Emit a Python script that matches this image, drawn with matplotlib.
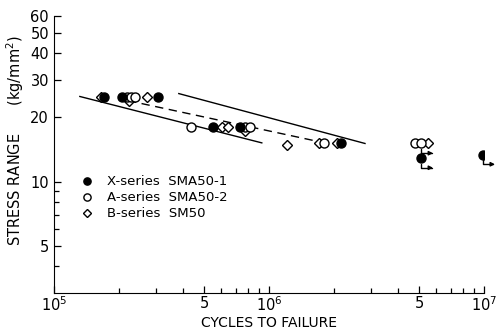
import numpy as np
import matplotlib
matplotlib.use("Agg")
import matplotlib.pyplot as plt
from matplotlib.ticker import FixedLocator, NullFormatter

# X-series SMA50-1 (filled)
x_series_n = [1.71e5, 2.07e5, 3.05e5, 5.5e5, 7.33e5, 2.16e6, 5.08e6, 9.86e6]
x_series_s = [25.0, 25.0, 25.0, 18.0, 18.0, 15.2, 12.9, 13.4]
# A-series SMA50-2 (open circle)
a_series_n = [2.19e5, 2.28e5, 2.38e5, 4.33e5, 7.73e5, 8.16e5, 1.80e6, 4.78e6, 5.08e6]
a_series_s = [25.0, 25.0, 25.0, 18.0, 18.0, 18.0, 15.1, 15.1, 15.1]
# B-series SM50 (open diamond)
b_series_n = [1.65e5, 2.23e5, 2.70e5, 6.03e5, 6.43e5, 7.73e5, 1.21e6, 1.71e6, 2.07e6, 5.5e6]
b_series_s = [25.0, 24.0, 25.0, 18.0, 18.0, 17.2, 14.9, 15.1, 15.2, 15.1]

# run-outs (no failure)
runout_n = [5.08e6, 5.08e6, 9.86e6]
runout_s = [15.1, 12.9, 13.4]

# S-N lines
upper_n = [3.81e5, 2.8e6]
upper_s = [25.9, 15.1]
mean_n = [2.21e5, 1.66e6]
mean_s = [24.0, 15.5]
lower_n = [1.32e5, 9.27e5]
lower_s = [25.1, 15.2]

plt.rcParams['font.family'] = 'DejaVu Sans'

fig = plt.figure(figsize=(5.04, 3.31), dpi=100)
ax = fig.add_axes([0.107, 0.115, 0.853, 0.837])
ax.set_xscale('log')
ax.set_yscale('log')
ax.set_xlim(1e5, 1e7)
ax.set_ylim(3, 60)

ax.plot(upper_n, upper_s, color='k', lw=1.0)
ax.plot(mean_n, mean_s, color='k', lw=1.0, ls=(0, (6, 4)))
ax.plot(lower_n, lower_s, color='k', lw=1.0)

ax.plot(b_series_n, b_series_s, ls='none', marker='D', ms=5, mfc='white', mec='k', mew=1.0,
        label='B-series  SM50', zorder=3)
ax.plot(a_series_n, a_series_s, ls='none', marker='o', ms=6.5, mfc='white', mec='k', mew=1.0,
        label='A-series  SMA50-2', zorder=3)
ax.plot(x_series_n, x_series_s, ls='none', marker='o', ms=6.5, mfc='k', mec='k', mew=1.0,
        label='X-series  SMA50-1', zorder=4)

for n, s in zip(runout_n, runout_s):
    ax.annotate('', xy=(n, s), xytext=(9, -7), textcoords='offset points',
                arrowprops=dict(arrowstyle='<|-', color='k', lw=1.0, shrinkA=0, shrinkB=4,
                                mutation_scale=6,
                                connectionstyle='angle,angleA=0,angleB=90,rad=0'))

handles, labels = ax.get_legend_handles_labels()
ax.legend(handles[::-1], labels[::-1], loc='upper left', bbox_to_anchor=(0.05, 0.443),
          frameon=False, fontsize=9.5, handletextpad=1.0, labelspacing=0.22,
          handlelength=1.0, markerscale=0.8, borderaxespad=0)

for sp in ['top', 'right']:
    ax.spines[sp].set_visible(False)

ax.yaxis.set_major_locator(FixedLocator([5, 10, 20, 30, 40, 50, 60]))
ax.yaxis.set_minor_locator(FixedLocator([4, 6, 7, 8, 9]))
ax.set_yticklabels(['5', '10', '20', '30', '40', '50', '60'])
ax.yaxis.set_minor_formatter(NullFormatter())

ax.xaxis.set_major_locator(FixedLocator([1e5, 5e5, 1e6, 5e6, 1e7]))
ax.set_xticklabels(['$10^5$', '5', '$10^6$', '5', '$10^7$'])
minor_x = [m * d for d in (1e5, 1e6) for m in (2, 3, 4, 6, 7, 8, 9)]
ax.xaxis.set_minor_locator(FixedLocator(minor_x))
ax.xaxis.set_minor_formatter(NullFormatter())

ax.tick_params(which='both', direction='in', labelsize=10.5, width=0.9)
ax.tick_params(axis='x', which='both', pad=2)
ax.tick_params(which='major', length=5)
ax.tick_params(which='minor', length=3.5)

ax.set_xlabel('CYCLES TO FAILURE', fontsize=10, labelpad=1)
ax.set_ylabel('STRESS RANGE      (kg/mm$^2$)', fontsize=10.5)
ax.yaxis.set_label_coords(-0.065, 0.55)

fig.savefig('out.png', dpi=100)
